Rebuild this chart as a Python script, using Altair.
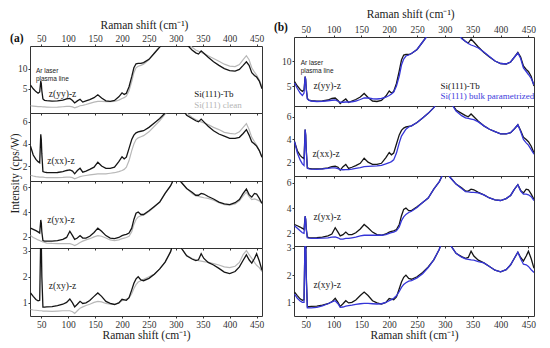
import altair as alt
import pandas as pd

# ---------------- data ----------------
xs = [30, 35, 40, 44, 47, 49, 50, 51, 53, 56, 60, 70, 80, 90, 97, 103, 108, 112, 117, 122,
      127, 133, 140, 148, 155, 162, 170, 178, 186, 194, 200, 204, 208, 213, 218, 222, 226, 230,
      235, 240, 250, 260, 270, 280, 290, 300, 310, 320, 330, 337, 342, 347, 352, 360, 370, 380,
      390, 400, 410, 418, 425, 431, 436, 441, 446, 450, 455, 460]

tb_yy = [5.9, 5.0, 4.3, 3.9, 4.2, 6.9, 6.3, 4.5, 2.5, 2.15, 2.05, 1.95, 2.0, 2.2, 2.5,
         2.6, 2.1, 1.5, 2.0, 2.4, 1.7, 2.0, 2.3, 2.8, 3.5, 2.7, 2.0, 1.9, 2.1, 3.0,
         4.0, 3.6, 3.9, 5.5, 8.0, 10.2, 11.2, 11.3, 11.3, 11.5, 12.3, 13.8, 15.3, 17.2, 19.5,
         21.0, 19.0, 16.0, 14.6, 13.9, 13.6, 14.4, 13.8, 12.8, 11.7, 10.8, 10.0, 9.5, 9.4, 9.8,
         10.8, 11.7, 10.8, 9.0, 8.3, 7.9, 6.9, 5.0]
clean_yy = [0.8, 0.72, 0.65, 0.6, 0.58, 0.57, 0.56, 0.55, 0.53, 0.5, 0.47, 0.42, 0.45, 0.55, 0.62,
            0.62, 0.5, 0.3, 0.5, 0.8, 0.9, 1.1, 1.4, 1.7, 1.9, 1.9, 1.8, 1.8, 1.9, 2.2,
            2.6, 2.8, 3.2, 4.5, 6.8, 9.0, 10.2, 10.6, 10.8, 11.1, 12.2, 13.9, 15.5, 17.3, 19.5,
            21.0, 19.2, 16.6, 15.3, 14.6, 14.3, 14.0, 13.7, 13.2, 12.5, 11.8, 11.1, 10.6, 10.5, 11.0,
            12.2, 13.2, 12.2, 10.2, 9.1, 8.4, 7.2, 5.6]
bulk_yy = [5.6, 4.5, 3.6, 3.1, 3.6, 6.9, 6.3, 4.4, 2.4, 2.1, 2.0, 1.9, 1.95, 2.05, 2.15,
           2.2, 1.95, 1.75, 1.75, 1.8, 1.8, 1.85, 2.0, 2.3, 2.6, 2.6, 2.45, 2.4, 2.5, 2.75,
           3.1, 3.4, 3.8, 5.0, 7.0, 9.2, 10.4, 11.0, 11.2, 11.5, 12.3, 13.8, 15.3, 17.2, 19.5,
           21.0, 19.0, 16.0, 14.5, 13.9, 13.5, 13.2, 13.0, 12.6, 11.8, 10.9, 10.0, 9.5, 9.4, 9.8,
           10.8, 11.6, 10.5, 8.6, 7.9, 7.3, 6.5, 5.2]

tb_xx = [3.8, 3.0, 2.6, 2.4, 2.3, 4.87, 4.4, 3.1, 1.5, 1.45, 1.42, 1.4, 1.42, 1.5, 1.6,
         1.65, 1.55, 1.3, 1.6, 1.8, 1.45, 1.55, 1.7, 1.9, 2.35, 2.0, 1.8, 1.8, 1.9, 2.4,
         2.85, 2.65, 2.8, 3.6, 4.4, 4.8, 5.0, 5.1, 5.15, 5.2, 5.5, 5.9, 6.3, 6.8, 7.5,
         8.5, 7.3, 6.6, 6.3, 6.1, 6.0, 6.25, 6.0, 5.6, 5.2, 4.9, 4.7, 4.5, 4.5, 4.6,
         4.95, 5.3, 4.8, 4.2, 4.0, 3.8, 3.4, 2.8]
clean_xx = [1.17, 1.1, 1.05, 1.02, 1.0, 1.0, 1.0, 1.0, 1.0, 0.98, 0.96, 0.95, 0.95, 0.97, 1.0,
            1.0, 0.95, 0.85, 0.95, 1.05, 1.1, 1.15, 1.2, 1.25, 1.3, 1.3, 1.3, 1.35, 1.4, 1.5,
            1.6, 1.7, 1.9, 2.5, 3.4, 4.0, 4.4, 4.55, 4.65, 4.75, 5.1, 5.6, 6.1, 6.7, 7.5,
            8.5, 7.4, 6.8, 6.4, 6.2, 6.1, 6.0, 5.9, 5.75, 5.5, 5.3, 5.05, 4.95, 4.9, 5.1,
            5.5, 5.85, 5.3, 4.6, 4.2, 3.9, 3.4, 2.8]
bulk_xx = [3.8, 2.8, 2.2, 1.85, 1.7, 4.87, 4.4, 3.0, 1.45, 1.4, 1.38, 1.37, 1.4, 1.45, 1.5,
           1.5, 1.42, 1.35, 1.33, 1.35, 1.35, 1.38, 1.45, 1.52, 1.6, 1.62, 1.65, 1.68, 1.72, 1.85,
           1.95, 2.05, 2.2, 2.8, 3.7, 4.3, 4.6, 4.9, 5.1, 5.2, 5.5, 5.9, 6.3, 6.8, 7.5,
           8.5, 7.3, 6.5, 6.1, 5.9, 5.85, 5.8, 5.75, 5.55, 5.2, 4.9, 4.7, 4.5, 4.5, 4.6,
           4.95, 5.3, 4.7, 4.0, 3.7, 3.5, 3.1, 2.7]

tb_yx = [2.7, 2.6, 2.5, 2.4, 2.3, 3.36, 3.1, 2.4, 1.7, 1.66, 1.65, 1.66, 1.7, 1.8, 1.95,
         2.45, 2.1, 1.8, 1.9, 2.1, 1.9, 1.9, 2.05, 2.35, 2.7, 2.45, 2.1, 1.9, 1.85, 1.95,
         2.1, 2.15, 2.2, 2.3, 2.7, 3.4, 3.9, 4.0, 3.8, 3.8, 4.1, 4.45, 4.8, 5.5, 6.1,
         7.0, 6.4, 5.9, 5.6, 5.35, 5.35, 5.5, 5.45, 5.25, 5.05, 4.8, 4.65, 4.6, 4.75, 5.0,
         5.5, 5.85, 5.4, 5.2, 5.5, 5.45, 5.1, 4.7]
clean_yx = [2.1, 1.95, 1.85, 1.75, 1.7, 1.65, 1.65, 1.62, 1.6, 1.55, 1.5, 1.47, 1.45, 1.45, 1.45,
            1.45, 1.38, 1.3, 1.4, 1.55, 1.65, 1.75, 1.85, 2.0, 2.1, 2.05, 1.9, 1.75, 1.7, 1.75,
            1.85, 1.9, 1.95, 2.05, 2.4, 3.0, 3.4, 3.6, 3.7, 3.75, 4.05, 4.4, 4.8, 5.5, 6.1,
            7.0, 6.4, 5.9, 5.5, 5.3, 5.25, 5.2, 5.15, 5.1, 4.95, 4.75, 4.6, 4.55, 4.65, 4.9,
            5.3, 5.6, 5.25, 5.0, 5.05, 5.0, 4.9, 4.7]
bulk_yx = [2.6, 2.4, 2.2, 2.05, 2.0, 3.36, 3.1, 2.3, 1.65, 1.62, 1.6, 1.6, 1.62, 1.65, 1.7,
           1.72, 1.65, 1.55, 1.55, 1.6, 1.6, 1.65, 1.7, 1.8, 1.85, 1.85, 1.85, 1.85, 1.85, 1.9,
           2.0, 2.05, 2.1, 2.2, 2.5, 3.0, 3.3, 3.5, 3.65, 3.75, 4.05, 4.45, 4.8, 5.5, 6.1,
           7.0, 6.4, 5.9, 5.55, 5.3, 5.28, 5.25, 5.25, 5.2, 5.05, 4.8, 4.65, 4.6, 4.75, 5.0,
           5.5, 5.85, 5.35, 5.1, 5.1, 5.05, 4.9, 4.6]

tb_xy = [1.38, 1.25, 1.13, 1.08, 1.1, 3.6, 3.3, 2.0, 0.84, 0.84, 0.85, 0.86, 0.9, 0.95, 1.02,
         1.15, 1.0, 0.85, 0.95, 1.06, 0.98, 1.0, 1.09, 1.25, 1.38, 1.25, 1.06, 0.98, 0.94, 1.0,
         1.14, 1.12, 1.1, 1.2, 1.5, 1.75, 1.92, 2.0, 1.88, 1.85, 1.94, 2.1, 2.3, 2.56, 2.95,
         3.6, 3.1, 2.8, 2.68, 2.62, 2.65, 2.88, 2.7, 2.55, 2.45, 2.32, 2.18, 2.12, 2.2, 2.38,
         2.63, 2.84, 2.65, 2.52, 2.7, 2.88, 2.6, 2.25]
clean_xy = [0.75, 0.73, 0.72, 0.71, 0.7, 0.7, 0.7, 0.7, 0.69, 0.69, 0.69, 0.68, 0.69, 0.7, 0.7,
            0.7, 0.66, 0.6, 0.7, 0.8, 0.85, 0.9, 0.95, 1.02, 1.06, 1.04, 0.98, 0.95, 0.95, 1.0,
            1.08, 1.12, 1.15, 1.2, 1.35, 1.55, 1.7, 1.8, 1.85, 1.9, 2.0, 2.1, 2.3, 2.56, 2.95,
            3.6, 3.1, 2.82, 2.7, 2.65, 2.62, 2.6, 2.58, 2.55, 2.5, 2.45, 2.38, 2.35, 2.4, 2.55,
            2.85, 3.0, 2.85, 2.7, 2.55, 2.44, 2.35, 2.2]
bulk_xy = [1.3, 1.15, 1.05, 1.0, 1.0, 3.6, 3.3, 1.9, 0.8, 0.8, 0.8, 0.82, 0.87, 0.95, 1.02,
           1.06, 0.95, 0.82, 0.83, 0.86, 0.88, 0.9, 0.93, 0.95, 0.96, 0.96, 0.95, 0.94, 0.95, 1.0,
           1.06, 1.1, 1.15, 1.24, 1.4, 1.55, 1.66, 1.72, 1.78, 1.8, 1.9, 2.05, 2.28, 2.56, 2.95,
           3.6, 3.1, 2.8, 2.66, 2.6, 2.58, 2.56, 2.55, 2.5, 2.45, 2.32, 2.18, 2.12, 2.2, 2.38,
           2.63, 2.84, 2.6, 2.4, 2.38, 2.32, 2.2, 2.1]

tb_series = [tb_yy, tb_xx, tb_yx, tb_xy]
clean_series = [clean_yy, clean_xx, clean_yx, clean_xy]
bulk_series = [bulk_yy, bulk_xx, bulk_yx, bulk_xy]

geometry_labels = ["z(yy)-z", "z(xx)-z", "z(yx)-z", "z(xy)-z"]
x_ticks = [50, 100, 150, 200, 250, 300, 350, 400, 450]
x_domain = [29, 460]
y_ticks = [[5, 10], [2, 4, 6], [2, 4, 6], [1, 2, 3]]
left_domains = [[-1.0, 15.6], [0.65, 6.8], [1.1, 6.5], [0.5, 3.1]]
right_domains = [[1.0, 14.8], [0.78, 6.95], [1.0, 6.54], [0.5, 3.07]]

# annotation positions (data coordinates)
left_geo_pos = [(64, 3.8), (61, 2.5), (61, 3.36), (64, 1.63)]
right_geo_pos = [(64, 5.1), (62, 2.76), (64, 3.3), (64, 1.63)]
left_legend = [("Si(111)-Tb", 334, 3.7, "#111111"), ("Si(111) clean", 334, 1.0, "#b5b5b5")]
right_legend = [("Si(111)-Tb", 292, 5.1, "#111111"),
                ("Si(111) bulk parametrized", 292, 3.0, "#3b3bdc")]
left_laser_pos = (40, 9.35)
right_laser_pos = (41, 9.7)
panel_tags = ["(a)", "(b)"]
left_tag_pos = (4.5, 17.3)
right_tag_pos = (5.5, 16.6)

SERIF = "Liberation Serif"
SANS = "Liberation Sans"

LEFT_W, RIGHT_W = 232, 240
LEFT_H = [67, 68, 67, 68]
RIGHT_H = [69, 70, 70, 70]
LEFT_GAP = 9

X_TITLE = "Raman shift (cm\u207b\u00b9)"
TICK_FS = 9.5
ANN_FS = 9


def make_panel(i, side):
    left = side == "L"
    dom = left_domains[i] if left else right_domains[i]
    w = LEFT_W if left else RIGHT_W
    h = LEFT_H[i] if left else RIGHT_H[i]
    top = i == 0
    bottom = i == 3
    xscale = alt.Scale(domain=x_domain, nice=False, zero=False)
    yscale = alt.Scale(domain=dom, nice=False, zero=False)

    tb_df = pd.DataFrame({"x": xs, "y": tb_series[i]})
    ref_df = pd.DataFrame({"x": xs, "y": (clean_series if left else bulk_series)[i]})

    bkw = dict(orient="bottom", values=x_ticks, tickSize=2, domain=False, grid=False,
               labels=bottom, labelPadding=1, labelFontSize=TICK_FS, tickColor="#333")
    if bottom:
        bkw["title"] = X_TITLE
        bkw["titlePadding"] = 1
    else:
        bkw["title"] = None
    x_axis = alt.Axis(**bkw)

    ykw = dict(values=y_ticks[i], tickSize=2, domain=False, grid=False, labelPadding=1,
               labelFontSize=TICK_FS, tickColor="#333")
    if left and i == 1:
        ykw["title"] = "Intensity (cps/W)"
        ykw["titleY"] = 60
        ykw["titlePadding"] = 2
    else:
        ykw["title"] = None
    y_axis = alt.Axis(**ykw)

    if top:
        ref_x_axis = alt.Axis(orient="top", values=x_ticks, tickSize=2, domain=False,
                              grid=False, labelPadding=1, labelFontSize=TICK_FS, title=None,
                              tickColor="#333")
        text_x_axis = None
    else:
        ref_x_axis = x_axis
        text_x_axis = x_axis

    def enc(chart, xa):
        if xa is None:
            return chart.encode(x=alt.X("x:Q", scale=xscale, axis=None),
                                y=alt.Y("y:Q", scale=yscale, axis=y_axis))
        return chart.encode(x=alt.X("x:Q", scale=xscale, axis=xa),
                            y=alt.Y("y:Q", scale=yscale, axis=y_axis))

    tb_line = enc(alt.Chart(tb_df).mark_line(color="#151515", strokeWidth=1.3, clip=True), x_axis)
    ref_color = "#b8b8b8" if left else "#3535d8"
    ref_line = enc(alt.Chart(ref_df).mark_line(color=ref_color, strokeWidth=1.2 if left else 1.3,
                                               clip=True), ref_x_axis)

    gx, gy = (left_geo_pos if left else right_geo_pos)[i]
    geo_df = pd.DataFrame({"x": [gx], "y": [gy], "t": [geometry_labels[i]]})
    geo = enc(alt.Chart(geo_df).mark_text(font=SERIF, fontSize=ANN_FS + 0.5, align="left",
                                          baseline="middle", color="#222"), text_x_axis
              ).encode(text="t:N")
    layers = [ref_line, tb_line, geo] if left else [tb_line, ref_line, geo]

    if top:
        leg = left_legend if left else right_legend
        leg_df = pd.DataFrame({"t": [a[0] for a in leg], "x": [a[1] for a in leg],
                               "y": [a[2] for a in leg], "c": [a[3] for a in leg]})
        legend_text = enc(alt.Chart(leg_df).mark_text(font=SERIF, fontSize=ANN_FS, align="left",
                                                      baseline="middle"), None).encode(
            text="t:N", color=alt.Color("c:N", scale=None))
        lx, ly = left_laser_pos if left else right_laser_pos
        laser_df = pd.DataFrame({"x": [lx], "y": [ly], "t": ["Ar laser\nplasma line"]})
        laser = enc(alt.Chart(laser_df).mark_text(font=SANS, fontSize=6.5, align="left",
                                                  baseline="middle", lineBreak="\n",
                                                  lineHeight=8, color="#222"), None
                    ).encode(text="t:N")
        tx, ty = left_tag_pos if left else right_tag_pos
        tag_df = pd.DataFrame({"x": [tx], "y": [ty], "t": [panel_tags[0 if left else 1]]})
        tag = enc(alt.Chart(tag_df).mark_text(font=SERIF, fontSize=11.5, fontWeight="bold",
                                              align="center", baseline="middle",
                                              color="#111"), None).encode(text="t:N")
        layers += [legend_text, laser, tag]

    ch = alt.layer(*layers).properties(width=w, height=h)
    if top:
        ch = ch.resolve_axis(x="independent")
    return ch


def col_title(dx):
    return alt.TitleParams(X_TITLE, anchor="middle", frame="bounds", fontSize=11.5, font=SERIF,
                           fontWeight="normal", offset=1, color="#222", dx=dx)


# blank spacer (an empty text) that lowers the left column relative to the right one
spacer_df = pd.DataFrame({"x": [0.0], "y": [0.0], "t": [""]})
spacer = alt.Chart(spacer_df).mark_text().encode(
    x=alt.X("x:Q", axis=None, scale=alt.Scale(domain=[0, 1])),
    y=alt.Y("y:Q", axis=None, scale=alt.Scale(domain=[0, 1])),
    text="t:N",
).properties(width=LEFT_W, height=LEFT_GAP, view=alt.ViewBackground(stroke="transparent"))

left_col = alt.vconcat(spacer, *[make_panel(i, "L") for i in range(4)], spacing=0,
                       bounds="flush", title=col_title(8))
right_col = alt.vconcat(*[make_panel(i, "R") for i in range(4)], spacing=0, bounds="flush",
                        title=col_title(6))

chart = alt.hconcat(left_col, right_col, spacing=8).properties(
    padding={"left": 0, "top": 0, "right": 0, "bottom": 0}
).configure_view(
    stroke="#333", strokeWidth=1
).configure_axis(
    labelFont=SERIF, titleFont=SERIF, labelColor="#333", titleColor="#222",
    titleFontSize=11.5, titleFontWeight="normal"
)

chart.save("out.html", embed_options={"renderer": "svg", "actions": False})
